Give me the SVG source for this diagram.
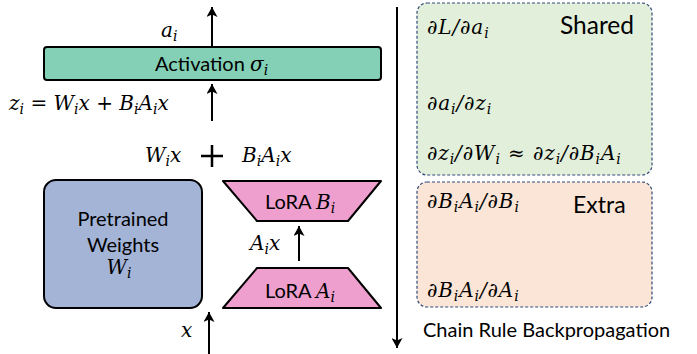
<svg xmlns="http://www.w3.org/2000/svg" width="697" height="354" viewBox="0 0 697 354">
  <defs>
    <marker id="arrow" markerUnits="userSpaceOnUse" markerWidth="10" markerHeight="11" refX="10" refY="5.5" orient="auto">
      <path d="M0,0 L10,5.5 L0,11 L2.5,5.5 Z" fill="#000"/>
    </marker>
    <style>
      .sans { font-family: Lato, "Liberation Sans", sans-serif; fill: #000; }
      .math { font-family: "DejaVu Serif", "Liberation Serif", serif; font-style: italic; fill: #000; font-size: 20px; }
      .sub { font-size: 14px; }
      .deriv { letter-spacing: 0.9px; }
      .flow { stroke: #000; stroke-width: 2; fill: none; marker-end: url(#arrow); }
      .panel { stroke: #2F4A78; stroke-width: 1.2; stroke-dasharray: 3 2; }
    </style>
  </defs>

  <!-- connectors -->
  <g id="connectors">
    <line class="flow" x1="212" y1="46" x2="212" y2="7"/>
    <line class="flow" x1="212" y1="121" x2="212" y2="84"/>
    <line class="flow" x1="299" y1="261" x2="299" y2="226"/>
    <line class="flow" x1="209" y1="354" x2="209" y2="312"/>
    <line class="flow" x1="397" y1="7" x2="397" y2="348"/>
    <!-- sum of the two branches -->
    <path d="M201,156 H223 M212,145 V167" stroke="#000" stroke-width="2.5"/>
  </g>

  <!-- flow labels -->
  <g id="labels">
    <text class="math" x="161" y="37">a<tspan class="sub" dy="4">i</tspan></text>
    <text class="math" x="9" y="110">z<tspan class="sub" dy="4">i</tspan><tspan dy="-4"> = W</tspan><tspan class="sub" dy="4">i</tspan><tspan dy="-4">x + B</tspan><tspan class="sub" dy="4">i</tspan><tspan dy="-4">A</tspan><tspan class="sub" dy="4">i</tspan><tspan dy="-4">x</tspan></text>
    <text class="math" x="145" y="162">W<tspan class="sub" dy="4">i</tspan><tspan dy="-4">x</tspan></text>
    <text class="math" x="242" y="162">B<tspan class="sub" dy="4">i</tspan><tspan dy="-4">A</tspan><tspan class="sub" dy="4">i</tspan><tspan dy="-4">x</tspan></text>
    <text class="math" x="250" y="250">A<tspan class="sub" dy="4">i</tspan><tspan dy="-4">x</tspan></text>
    <text class="math" x="181" y="337">x</text>
  </g>

  <g id="activation">
    <rect x="44" y="47" width="337" height="33" rx="3" fill="#83D0B6" stroke="#000" stroke-width="2"/>
    <text class="sans" x="155" y="71" font-size="20">Activation <tspan class="math">σ</tspan><tspan class="math sub" dy="4">i</tspan></text>
  </g>

  <g id="pretrained">
    <rect x="44" y="180" width="158" height="128" rx="12" fill="#A3B4D7" stroke="#000" stroke-width="2"/>
    <text class="sans" x="123" y="226" font-size="20" text-anchor="middle">Pretrained</text>
    <text class="sans" x="123" y="252" font-size="20" text-anchor="middle">Weights</text>
    <text class="math" x="119" y="274" text-anchor="middle">W<tspan class="sub" dy="4">i</tspan></text>
  </g>

  <g id="lora-b">
    <polygon points="223,181 381,181 348,221 257,221" fill="#EE9FCE" stroke="#000" stroke-width="2" stroke-linejoin="round"/>
    <text class="sans" x="265" y="209" font-size="20">LoRA <tspan class="math">B</tspan><tspan class="math sub" dy="4">i</tspan></text>
  </g>

  <g id="lora-a">
    <polygon points="257,268 348,268 381,308 223,308" fill="#EE9FCE" stroke="#000" stroke-width="2" stroke-linejoin="round"/>
    <text class="sans" x="265" y="298" font-size="20">LoRA <tspan class="math">A</tspan><tspan class="math sub" dy="4">i</tspan></text>
  </g>

  <g id="shared">
    <rect class="panel" x="417" y="3" width="235" height="172" rx="10" fill="#E2EFDA"/>
    <text class="sans" x="560" y="34" font-size="24.5">Shared</text>
    <text class="math deriv" x="427" y="34">∂L/∂a<tspan class="sub" dy="4">i</tspan></text>
    <text class="math deriv" x="427" y="110">∂a<tspan class="sub" dy="4">i</tspan><tspan dy="-4">/∂z</tspan><tspan class="sub" dy="4">i</tspan></text>
    <text class="math deriv" x="427" y="160">∂z<tspan class="sub" dy="4">i</tspan><tspan dy="-4">/∂W</tspan><tspan class="sub" dy="4">i</tspan><tspan dy="-4"> ≈ ∂z</tspan><tspan class="sub" dy="4">i</tspan><tspan dy="-4">/∂B</tspan><tspan class="sub" dy="4">i</tspan><tspan dy="-4">A</tspan><tspan class="sub" dy="4">i</tspan></text>
  </g>

  <g id="extra">
    <rect class="panel" x="417" y="182" width="235" height="125" rx="10" fill="#FBE5D6"/>
    <text class="sans" x="573" y="213" font-size="23">Extra</text>
    <text class="math deriv" x="427" y="208">∂B<tspan class="sub" dy="4">i</tspan><tspan dy="-4">A</tspan><tspan class="sub" dy="4">i</tspan><tspan dy="-4">/∂B</tspan><tspan class="sub" dy="4">i</tspan></text>
    <text class="math deriv" x="427" y="297">∂B<tspan class="sub" dy="4">i</tspan><tspan dy="-4">A</tspan><tspan class="sub" dy="4">i</tspan><tspan dy="-4">/∂A</tspan><tspan class="sub" dy="4">i</tspan></text>
  </g>

  <text id="backprop-caption" class="sans" x="423" y="337" font-size="20">Chain Rule Backpropagation</text>
</svg>
